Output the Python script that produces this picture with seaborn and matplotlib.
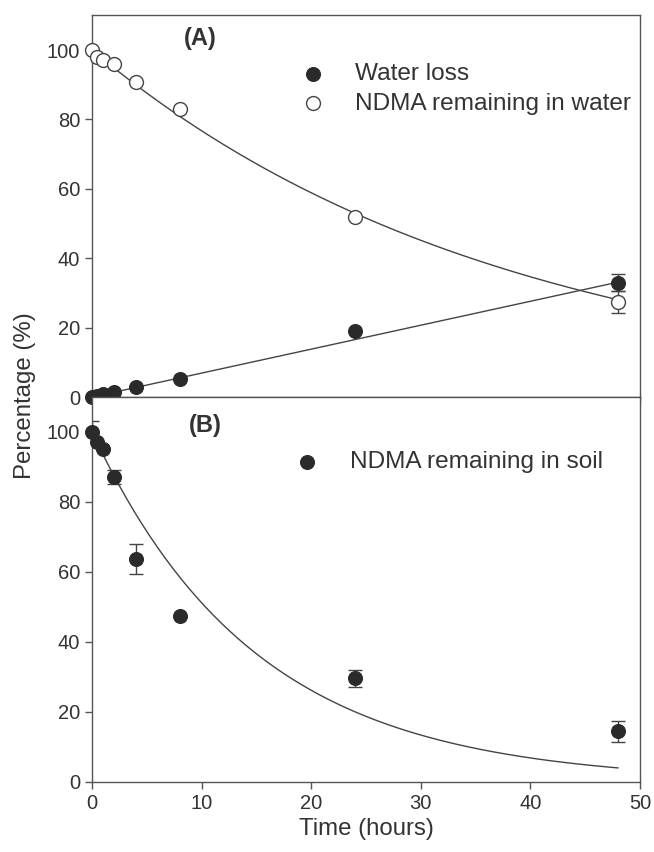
import numpy as np
import pandas as pd
import seaborn as sns
import matplotlib.pyplot as plt

# Sampling times (hours)
time_h = [0, 0.5, 1, 2, 4, 8, 24, 48]

# Panel A: water loss and NDMA remaining in water (%)
water_loss = [0, 0.3, 0.8, 1.5, 2.9, 5.2, 19, 33]
water_loss_err = [0, 0, 0, 0, 0, 0, 0, 2.5]
ndma_water = [100, 98, 97, 96, 90.8, 83, 52, 27.4]
ndma_water_err = [0, 0, 0, 0, 0, 0, 0, 3.3]

# Panel B: NDMA remaining in soil (%)
ndma_soil = [100, 97, 95, 87.2, 63.8, 47.4, 29.6, 14.5]
ndma_soil_err = [3, 0, 0, 2, 4.3, 0, 2.5, 3]

# fitted model parameters
k_water = 0.0265     # first-order decay, NDMA in water
slope_loss = 0.69    # linear water loss
k_soil = 0.067       # first-order decay, NDMA in soil

sns.set_style('ticks')
plt.rcParams['font.family'] = ['Liberation Sans', 'DejaVu Sans']
plt.rcParams['axes.edgecolor'] = '#555555'
plt.rcParams['xtick.color'] = '#555555'
plt.rcParams['ytick.color'] = '#555555'
plt.rcParams['xtick.labelcolor'] = '#333333'
plt.rcParams['ytick.labelcolor'] = '#333333'

dark = '#2a2a2a'
line_col = '#444444'

df = pd.DataFrame({'time': time_h, 'loss': water_loss, 'water': ndma_water, 'soil': ndma_soil})
t_fit = np.linspace(0, 48, 200)
fit = pd.DataFrame({'time': t_fit,
                    'water': 100 * np.exp(-k_water * t_fit),
                    'loss': slope_loss * t_fit,
                    'soil': 100 * np.exp(-k_soil * t_fit)})

fig = plt.figure(figsize=(6.54, 8.52), dpi=100)
ax1 = fig.add_axes([0.1407, 0.534, 0.838, 0.448])
ax2 = fig.add_axes([0.1407, 0.0822, 0.838, 0.452])

# Panel A
sns.lineplot(x='time', y='water', data=fit, ax=ax1, color=line_col, lw=1)
sns.lineplot(x='time', y='loss', data=fit, ax=ax1, color=line_col, lw=1)
ax1.errorbar(time_h, water_loss, yerr=water_loss_err, fmt='none', ecolor=line_col, elinewidth=1, capsize=5)
ax1.errorbar(time_h, ndma_water, yerr=ndma_water_err, fmt='none', ecolor=line_col, elinewidth=1, capsize=5)
sns.scatterplot(x='time', y='loss', data=df, ax=ax1, s=100, color=dark, edgecolor=dark,
                label='Water loss', clip_on=False, zorder=5)
sns.scatterplot(x='time', y='water', data=df, ax=ax1, s=100, facecolor='white', edgecolor=line_col,
                linewidth=1, label='NDMA remaining in water', clip_on=False, zorder=5)

# Panel B
sns.lineplot(x='time', y='soil', data=fit, ax=ax2, color=line_col, lw=1)
ax2.errorbar(time_h, ndma_soil, yerr=ndma_soil_err, fmt='none', ecolor=line_col, elinewidth=1, capsize=5)
sns.scatterplot(x='time', y='soil', data=df, ax=ax2, s=100, color=dark, edgecolor=dark,
                label='NDMA remaining in soil', clip_on=False, zorder=5)

for ax in (ax1, ax2):
    ax.set_xlim(0, 50)
    ax.set_ylim(0, 110)
    ax.set_xticks(range(0, 51, 10))
    ax.set_yticks(range(0, 101, 20))
    ax.tick_params(direction='out', length=5, width=1, labelsize=14.5)
    ax.set_xlabel('')
    ax.set_ylabel('')
    for sp in ax.spines.values():
        sp.set_linewidth(1)

ax1.tick_params(axis='x', labelbottom=False)
ax2.set_xlabel('Time (hours)', fontsize=17.3, color='#333333')
fig.text(0.038, 0.536, 'Percentage (%)', rotation=90, fontsize=17.3, color='#333333',
         ha='center', va='center')

ax1.text(0.198, 0.94, '(A)', transform=ax1.transAxes, fontsize=17, fontweight='bold',
         color='#333333', ha='center', va='center')
ax2.text(0.207, 0.925, '(B)', transform=ax2.transAxes, fontsize=17, fontweight='bold',
         color='#333333', ha='center', va='center')

ax1.legend(loc='upper left', bbox_to_anchor=(0.34, 0.90), frameon=False, fontsize=17.6,
           handletextpad=0.75, labelspacing=0.3, borderaxespad=0, labelcolor='#333333')
ax2.legend(loc='upper left', bbox_to_anchor=(0.33, 0.885), frameon=False, fontsize=17.6,
           handletextpad=0.75, borderaxespad=0, labelcolor='#333333')

plt.savefig('out.png', dpi=100)
